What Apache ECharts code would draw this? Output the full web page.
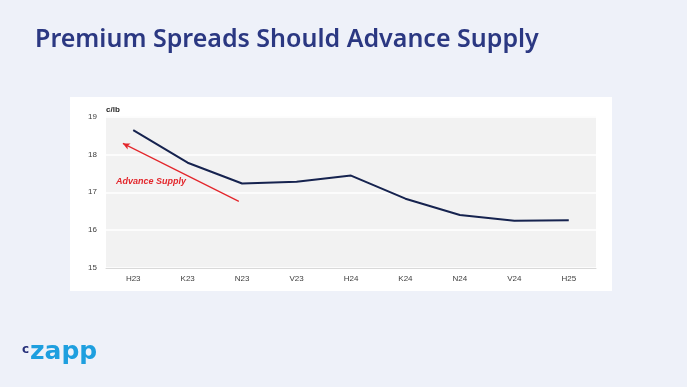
<!DOCTYPE html>
<html>
<head>
<meta charset="utf-8">
<script src="https://cdn.jsdelivr.net/npm/echarts@6/dist/echarts.min.js"></script>
<style>
html,body{margin:0;padding:0;background:#eef1f9;}
#chart{width:687px;height:387px;}
</style>
</head>
<body>
<div id="chart"></div>
<script>
const categories = ['H23','K23','N23','V23','H24','K24','N24','V24','H25'];
const spreadValues = [18.64, 17.78, 17.23, 17.28, 17.44, 16.83, 16.40, 16.25, 16.26];
const yTicks = { min: 15, max: 19, interval: 1 };
const arrowFrom = [1.94, 16.76];
const arrowTo = [-0.19, 18.29];
const titleText = 'Premium Spreads Should Advance Supply';
const annotationText = 'Advance Supply';
const unitText = 'c/lb';

const chart = echarts.init(document.getElementById('chart'), null, {renderer:'canvas'});
chart.setOption({
  animation: false,
  backgroundColor: '#eef1f9',
  graphic: [
    { type:'rect', z:-10, shape:{x:70,y:97,width:542,height:194}, style:{fill:'#ffffff'} },
    { type:'text', left:35, top:27, style:{ text:titleText, font:'600 25px "Noto Sans"', fill:'#2b3882' } },
    { type:'text', left:116, top:177, style:{ text:annotationText, font:'italic bold 9px "Liberation Sans"', fill:'#e3262b' } },
    { type:'text', left:106, top:106, style:{ text:unitText, font:'bold 8px "Liberation Sans"', fill:'#262626' } },
    { type:'text', left:22, top:344, style:{ text:'c', font:'bold 12px "DejaVu Sans"', fill:'#26307a' } },
    { type:'text', left:30, top:340, style:{ text:'zapp', font:'bold 25px "DejaVu Sans"', fill:'#1e9fdf' } }
  ],
  grid: { left:106, right:91, top:116.5, bottom:119, show:true, backgroundColor:'#f2f2f2', borderWidth:0 },
  xAxis: [
    { type:'category', data:categories, boundaryGap:true,
      axisLine:{show:true, lineStyle:{color:'#d9d9d9', width:1}},
      axisTick:{show:false},
      axisLabel:{color:'#404040', fontSize:8, fontFamily:'"Liberation Sans"', margin:7} },
    { type:'value', min:-0.5, max:8.5, show:false }
  ],
  yAxis: {
    type:'value', min:yTicks.min, max:yTicks.max, interval:yTicks.interval,
    axisLine:{show:false}, axisTick:{show:false},
    axisLabel:{color:'#404040', fontSize:8, fontFamily:'"Liberation Sans"', margin:9},
    splitLine:{show:true, lineStyle:{color:'#ffffff', width:1.5}}
  },
  series: [
    { type:'line', data:spreadValues, symbol:'none', lineStyle:{color:'#16234f', width:2} },
    { type:'line', xAxisIndex:1, data:[], symbol:'none',
      markLine:{ silent:true, symbol:['none','arrow'], symbolSize:[5,7],
        lineStyle:{color:'#e3262b', width:1.2, type:'solid'}, label:{show:false},
        data:[[ {coord:arrowFrom}, {coord:arrowTo} ]] } }
  ]
});
</script>
</body>
</html>
